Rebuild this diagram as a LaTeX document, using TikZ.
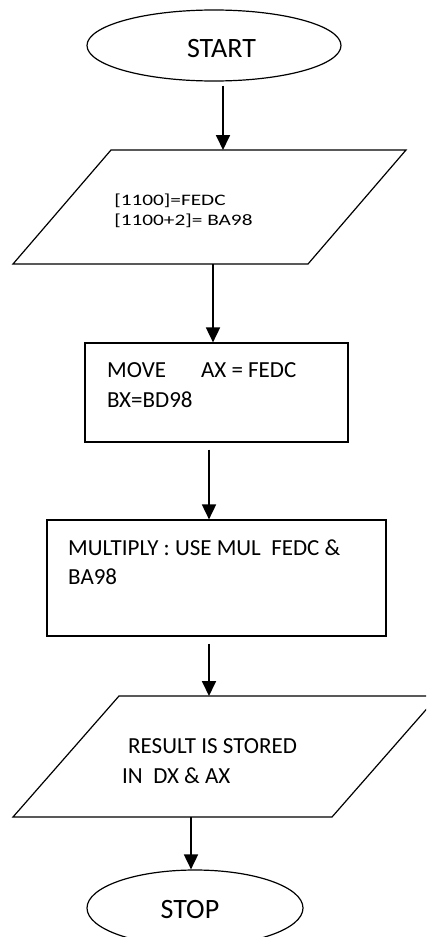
\documentclass[tikz,border=0pt]{standalone}
\usepackage{fontspec}
\setmainfont{Carlito}
\usetikzlibrary{shapes.geometric,arrows.meta}
\begin{document}
\begin{tikzpicture}[x=1pt,y=-1pt,
  shapeline/.style={draw=black,line width=1.2pt},
  term/.style={shapeline,ellipse,inner sep=0pt},
  procbox/.style={shapeline,rectangle,inner sep=0pt},
  arr/.style={line width=1.8pt,-{Triangle[width=14pt,length=15pt]}},
  bigtxt/.style={font=\fontsize{28}{34}\selectfont,inner sep=0pt,anchor=base},
  midtxt/.style={font=\fontsize{23}{28}\selectfont,inner sep=0pt,anchor=base west},
  smalltxt/.style={font=\fontsize{16}{19}\selectfont,inner sep=0pt,anchor=base west,xscale=1.33}]
\fill[white] (0,0) rectangle (426,937);
\useasboundingbox (0,0) rectangle (426,937);
\clip (0,0) rectangle (426,937);
% START
\node[term,minimum width=254pt,minimum height=71pt] (start) at (214,45.5) {};
\node[bigtxt] (starttxt) at (221.5,57) {START};
% input parallelogram
\draw[shapeline] (111,150) -- (406,150) -- (308,264) -- (13,264) -- cycle;
\coordinate (p1top) at (223,150);
\coordinate (p1bot) at (213,264);
\node[smalltxt] (in1) at (114,205) {[1100]=FEDC};
\node[smalltxt] (in2) at (114,225) {[1100+2]= BA98};
% MOVE box
\node[procbox,minimum width=263pt,minimum height=99pt] (r1) at (216.5,392.5) {};
\node[midtxt] (mv1) at (107,377) {MOVE\hspace{35pt}AX = FEDC};
\node[midtxt] (mv2) at (107,407) {BX=BD98};
% MULTIPLY box
\node[procbox,minimum width=339pt,minimum height=116pt] (r2) at (216.5,578) {};
\node[midtxt] (ml1) at (68,555) {MULTIPLY : USE MUL\ \ FEDC \&};
\node[midtxt] (ml2) at (68,584) {BA98};
% output parallelogram
\draw[shapeline] (119,696) -- (438,696) -- (332,817) -- (13,817) -- cycle;
\coordinate (p2top) at (209,696);
\coordinate (p2bot) at (191,817);
\node[midtxt] (rs1) at (128,753) {RESULT IS STORED};
\node[midtxt] (rs2) at (122,783) {IN\ \ DX \& AX};
% STOP
\node[term,minimum width=216pt,minimum height=76pt] (stop) at (195,908) {};
\node[bigtxt] (stoptxt) at (190,918) {STOP};
% connectors
\draw[arr,shorten <=4pt] (start.south -| p1top) -- (p1top);
\draw[arr] (p1bot) -- (p1bot |- r1.north);
\draw[arr,shorten <=7pt] ([xshift=-7.5pt]r1.south) -- ([xshift=-7.5pt]r2.north);
\draw[arr,shorten <=7pt] ([xshift=-7.5pt]r2.south) -- (p2top);
\draw[arr] (p2bot) -- (p2bot |- stop.north);
\end{tikzpicture}
\end{document}
